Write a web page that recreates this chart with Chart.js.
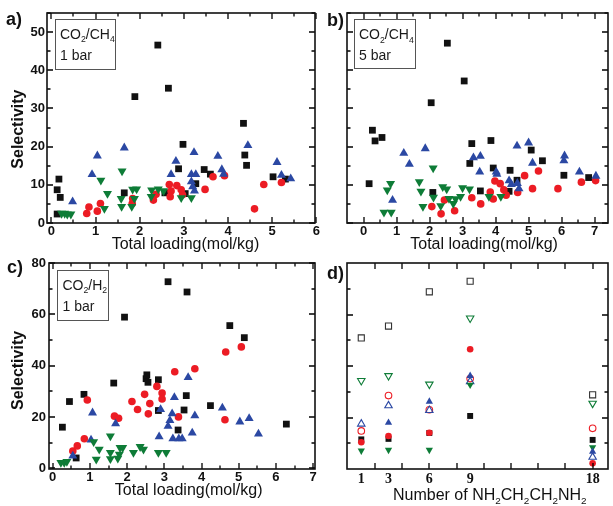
<!DOCTYPE html>
<html><head><meta charset="utf-8">
<script src="https://cdn.jsdelivr.net/npm/chart.js@4.4.0/dist/chart.umd.min.js"></script>
<style>
html,body{margin:0;padding:0;background:#fff;}
#wrap{position:relative;width:613px;height:506px;overflow:hidden;background:#fff;}
canvas{position:absolute;left:0;top:0;}
</style></head><body>
<div id="wrap">
<canvas id="ca" width="613" height="506"></canvas>
<canvas id="cb" width="613" height="506"></canvas>
<canvas id="cc" width="613" height="506"></canvas>
<canvas id="cd" width="613" height="506"></canvas>
</div>
<script>
// ---------- Panel a: CO2/CH4, 1 bar ----------
const aSqX  = [0.13,0.13,0.17,0.2,1.65,1.89,2.41,2.65,2.98,2.88,2.57,3.03,3.27,3.46,3.6,4.35,4.38,4.42,5.02,5.3];
const aSqY  = [2.35,8.7,11.5,6.7,7.9,33.1,46.6,35.3,20.6,14.2,7.9,7.7,10.3,14.0,12.8,26.1,17.8,15.1,12.1,11.5];
const aCirX = [0.8,0.85,1.04,1.11,1.84,1.83,2.31,2.37,2.67,2.71,2.69,2.84,2.94,2.97,3.48,3.66,3.92,4.6,4.81,5.21];
const aCirY = [2.5,4.2,3.1,5.1,6.4,5.1,6.0,7.5,10.1,8.4,6.9,9.8,8.7,7.4,8.8,12.1,12.4,3.7,10.1,10.6];
const aUpX  = [0.48,0.92,1.04,1.65,2.71,2.82,3.17,3.17,3.2,3.24,3.27,3.23,3.77,3.86,3.9,4.45,5.11,5.21,5.42];
const aUpY  = [5.6,12.7,17.6,19.7,12.7,16.2,12.7,10.8,9.5,8.4,12.7,18.5,17.5,14.0,12.8,20.3,15.9,12.5,11.6];
const aDnX  = [0.23,0.3,0.36,0.44,1.12,1.2,1.27,1.58,1.6,1.59,1.82,1.84,1.93,1.88,2.26,2.27,2.42,2.54,2.94,3.17];
const aDnY  = [2.5,2.5,2.3,2.3,11.2,3.8,7.7,6.4,13.6,4.3,4.3,8.8,8.9,6.4,6.9,8.6,8.9,8.4,6.6,6.6];
// ---------- Panel b: CO2/CH4, 5 bar ----------
const bSqX  = [0.17,0.27,0.35,0.56,2.05,2.1,2.54,3.05,3.28,3.22,3.54,3.86,3.93,4.44,4.41,4.65,5.08,5.42,6.07,6.82];
const bSqY  = [10.3,24.3,21.5,22.4,31.5,8.0,47.1,37.2,20.8,15.6,8.4,21.6,14.4,13.8,8.3,11.2,19.1,16.3,12.5,11.9];
const bCirX = [2.07,2.35,2.45,2.76,3.28,3.55,3.84,3.93,3.98,4.14,4.25,4.32,4.67,4.88,5.12,5.3,5.89,6.6,7.03];
const bCirY = [4.3,2.4,6.0,3.2,6.6,5.0,8.1,6.3,11.0,10.3,8.7,7.3,8.0,12.4,9.0,13.6,9.0,10.7,11.1];
const bUpX  = [0.88,1.22,1.39,1.87,3.33,3.54,3.52,4.02,4.04,4.41,4.48,4.65,4.66,4.71,5.0,5.12,6.09,6.07,6.54,7.04];
const bUpY  = [6.0,18.3,15.4,19.5,17.1,17.5,13.4,13.4,12.8,11.1,10.1,20.2,10.4,9.0,21.0,15.7,17.6,16.3,13.4,12.3];
const bDnX  = [0.62,0.84,0.82,0.72,1.69,1.74,1.8,2.11,2.12,2.34,2.4,2.52,2.59,2.72,2.79,2.94,3.0,3.21,3.8,4.16];
const bDnY  = [2.8,2.8,10.3,8.6,10.8,8.3,4.3,14.4,6.7,4.5,9.5,8.9,6.4,5.1,6.3,6.9,9.2,8.9,6.9,6.9];
// ---------- Panel c: CO2/H2, 1 bar ----------
const cSqX  = [0.26,0.45,0.63,0.84,1.64,1.93,2.51,2.53,2.56,2.84,2.84,3.1,3.37,3.59,3.61,3.53,4.24,4.76,5.15,6.28];
const cSqY  = [16.0,26.0,4.0,28.8,33.2,58.9,34.9,36.4,33.5,34.5,22.5,72.7,14.9,28.3,68.7,22.7,24.4,55.6,50.9,17.2];
const cCirX = [0.54,0.66,0.85,0.93,1.66,1.77,2.13,2.28,2.47,2.57,2.61,2.8,2.94,2.94,3.28,3.38,3.82,4.65,4.63,5.07];
const cCirY = [6.7,8.7,11.5,26.6,20.3,19.5,26.0,22.9,28.8,21.2,25.2,31.9,29.3,27.0,37.6,20.0,38.8,45.3,18.9,47.3];
const cUpX  = [0.54,1.03,1.07,1.69,2.86,2.9,3.1,3.15,3.21,3.27,3.23,3.39,3.48,3.64,3.75,3.82,4.56,5.03,5.28,5.53];
const cUpY  = [4.8,11.0,21.6,17.4,12.3,22.9,16.4,18.6,21.3,27.6,11.5,11.5,11.5,35.4,13.8,20.5,23.5,18.1,19.4,13.4];
const cDnX  = [0.22,0.31,0.38,1.1,1.17,1.25,1.55,1.55,1.55,1.81,1.79,1.88,1.75,2.17,2.35,2.44,2.84,3.05];
const cDnY  = [2.2,2.2,2.6,10.3,3.5,7.4,12.5,6.1,3.7,8.0,5.4,8.0,3.9,6.1,8.4,7.4,6.1,6.1];
// ---------- Panel d: number of NH2CH2CH2NH2 ----------
const dX       = [1,3,6,9,18];
const dSqFill  = [11.5,11.7,14.0,20.6,11.3];
const dCirFill = [10.4,12.8,14.1,46.5,2.2];
const dUpFill  = [null,18.0,26.2,36.2,6.7];
const dDnFill  = [7.1,7.4,7.4,32.7,8.4];
const dSqOpen  = [50.9,55.5,68.8,72.9,28.8];
const dCirOpen = [14.8,28.5,23.0,35.1,15.8];
const dUpOpen  = [17.5,24.6,22.8,34.0,4.6];
const dDnOpen  = [34.3,36.2,32.9,58.6,25.5];
// ---------- tick values ----------
const aXTicks = [0,1,2,3,4,5,6];
const abYTicks = [0,10,20,30,40,50];
const bXTicks = [0,1,2,3,4,5,6,7];
const cXTicks = [0,1,2,3,4,5,6,7];
const cYTicks = [0,20,40,60,80];
const dXTicks = [1,3,6,9,18];
const dXMarks = [2,4,6,8,10,12,14,16,18];
const dYMajor = [20,40,60];
const dYMinor = [10,30,50,70];
// ---------- text ----------
const yTitle = 'Selectivity';
const xTitle = 'Total loading(mol/kg)';

const C_BLACK='#111', C_RED='#ec1c24', C_BLUE='#2b48a3', C_GREEN='#0e7c37';
const FONT='"Liberation Sans", Arial, Helvetica, sans-serif';
const SERIF='"Liberation Serif", "Times New Roman", serif';

const pts = (xs, ys) => xs.map((x,i)=>({x, y: ys[i]}));
const half = arr => arr.slice(0,-1).map((v,i)=>(v+arr[i+1])/2);

function drawRich(ctx, x, y, parts, size, weight){
  let cx = x;
  parts.forEach(([t, sub])=>{
    const s = sub ? size*0.62 : size;
    ctx.font = `${weight||'normal'} ${s}px ${FONT}`;
    ctx.fillText(t, cx, y + (sub ? size*0.28 : 0));
    cx += ctx.measureText(t).width;
  });
  return cx - x;
}

function makeFrame(spec){
  return {
    id:'frame_'+Math.random().toString(36).slice(2),
    afterDatasetsDraw(chart){
      const {ctx, chartArea:ca, scales:{x,y}} = chart;
      const L=Math.round(ca.left), R=Math.round(ca.right), T=Math.round(ca.top), B=Math.round(ca.bottom);
      ctx.save();
      ctx.strokeStyle='#000';
      ctx.lineWidth=1.3;
      ctx.beginPath();
      const xt=(vals,len)=>vals.forEach(v=>{const p=Math.round(x.getPixelForValue(v));
        ctx.moveTo(p,B);ctx.lineTo(p,B-len);ctx.moveTo(p,T);ctx.lineTo(p,T+len);});
      const yt=(vals,len)=>vals.forEach(v=>{const p=Math.round(y.getPixelForValue(v));
        ctx.moveTo(L,p);ctx.lineTo(L+len,p);ctx.moveTo(R,p);ctx.lineTo(R-len,p);});
      xt(spec.xMajor,6); xt(spec.xMinor,3.5); yt(spec.yMajor,6); yt(spec.yMinor,3.5);
      ctx.stroke();
      ctx.lineWidth=1.6;
      ctx.strokeStyle='#111';
      ctx.strokeRect(L, T, R-L, B-T);
      ctx.restore();
    },
    afterDraw(chart){
      const ctx = chart.ctx;
      ctx.save();
      ctx.fillStyle='#111';
      ctx.textBaseline='alphabetic';
      ctx.textAlign='left';
      if(spec.label){ ctx.font=`bold 18px ${FONT}`; ctx.fillText(spec.label.text, spec.label.x, spec.label.y); }
      if(spec.box){
        const b=spec.box;
        ctx.strokeStyle='#555'; ctx.lineWidth=1;
        ctx.strokeRect(b.x+0.5,b.y+0.5,b.w,b.h);
        ctx.fillStyle='#1a1a1a';
        b.lines.forEach(l=>drawRich(ctx,l.x,l.y,l.parts,14,'normal'));
      }
      if(spec.title){
        ctx.fillStyle='#111';
        drawRich(ctx, spec.title.x, spec.title.y, spec.title.parts, 16, 'normal');
      }
      ctx.restore();
    }
  };
}

function ds(data, color, style, radius, rot, open){
  return {data, pointStyle:style, pointRadius:radius, pointHoverRadius:radius, pointRotation:rot||0,
    pointBackgroundColor: open ? 'rgba(0,0,0,0)' : color,
    pointBorderColor: color, pointBorderWidth: open ? 1.1 : 0, showLine:false, clip:false};
}

function options(s){
  return {
    responsive:false, animation:false, devicePixelRatio:1,
    layout:{padding:s.pad},
    plugins:{legend:{display:false}, tooltip:{enabled:false}},
    scales:{
      x:{type:'linear', min:s.xMin, max:s.xMax,
        grid:{display:false, drawTicks:false}, border:{display:false},
        afterBuildTicks: sc=>{ sc.ticks = s.xTicks.map(v=>({value:v})); },
        afterFit: sc=>{ sc.height = s.xH; },
        ticks:{display:true, font:s.xFont||{family:FONT, size:13, weight:'bold'}, color:'#111',
               padding:s.xPad||1, maxRotation:0, autoSkip:false},
        title: s.xTitle ? {display:true, text:s.xTitle, color:'#111',
               font:{family:FONT, size:16, weight:'normal'}, padding:{top:0,bottom:0}} : {display:false}
      },
      y:{type:'linear', min:s.yMin, max:s.yMax,
        grid:{display:false, drawTicks:false}, border:{display:false},
        afterBuildTicks: sc=>{ sc.ticks = s.yTicks.map(v=>({value:v})); },
        afterFit: sc=>{ sc.width = s.yW; },
        ticks:{display:!!s.yLabels, font:{family:FONT, size:13, weight:'bold'}, color:'#111',
               padding:s.yPad||2, autoSkip:false},
        title: s.yTitle ? {display:true, text:s.yTitle, color:'#111',
               font:{family:FONT, size:16, weight:'bold'}, padding:{top:s.yTitlePad||9,bottom:0}} : {display:false}
      }
    }
  };
}

function scatterSets(sq, cir, up, dn){
  return [
    ds(dn, C_GREEN, 'triangle', 5.2, 180),
    ds(up, C_BLUE, 'triangle', 5.2, 0),
    ds(cir, C_RED, 'circle', 3.8, 0),
    ds(sq, C_BLACK, 'rect', 4.8, 0)
  ];
}

// Panel a
new Chart(document.getElementById('ca'), {
  type:'scatter',
  data:{datasets: scatterSets(pts(aSqX,aSqY), pts(aCirX,aCirY), pts(aUpX,aUpY), pts(aDnX,aDnY))},
  options: options({pad:{left:0,top:13,right:298,bottom:252}, xMin:-0.1, xMax:5.97, yMin:0, yMax:55,
    xTicks:aXTicks, yTicks:abYTicks, xH:31, yW:47, yLabels:true, yPad:2, yTitlePad:9,
    xTitle:'  '+xTitle, yTitle:yTitle+'     '}),
  plugins:[makeFrame({xMajor:aXTicks, xMinor:half(aXTicks), yMajor:abYTicks, yMinor:half(abYTicks.concat([60])),
    label:{text:'a)', x:6, y:25},
    box:{x:55,y:19,w:60,h:50, lines:[
      {x:60,y:38.5,parts:[['CO',0],['2',1],['/CH',0],['4',1]]},
      {x:60,y:60,parts:[['1 bar',0]]}]}})]
});

// Panel b
new Chart(document.getElementById('cb'), {
  type:'scatter',
  data:{datasets: scatterSets(pts(bSqX,bSqY), pts(bCirX,bCirY), pts(bUpX,bUpY), pts(bDnX,bDnY))},
  options: options({pad:{left:347,top:13,right:3,bottom:252}, xMin:-0.5, xMax:7.4, yMin:0, yMax:55,
    xTicks:bXTicks, yTicks:abYTicks, xH:31, yW:0, yLabels:false,
    xTitle:'   '+xTitle}),
  plugins:[makeFrame({xMajor:bXTicks, xMinor:half(bXTicks), yMajor:abYTicks, yMinor:half(abYTicks.concat([60])),
    label:{text:'b)', x:327, y:26},
    box:{x:354,y:19,w:61,h:49, lines:[
      {x:359,y:39,parts:[['CO',0],['2',1],['/CH',0],['4',1]]},
      {x:359,y:60,parts:[['5 bar',0]]}]}})]
});

// Panel c
new Chart(document.getElementById('cc'), {
  type:'scatter',
  data:{datasets: scatterSets(pts(cSqX,cSqY), pts(cCirX,cCirY), pts(cUpX,cUpY), pts(cDnX,cDnY))},
  options: options({pad:{left:0,top:263,right:298,bottom:6}, xMin:-0.1, xMax:7.05, yMin:-0.3, yMax:80,
    xTicks:cXTicks, yTicks:cYTicks, xH:31, yW:49, yLabels:true, yPad:3, yTitlePad:9,
    xTitle:'   '+xTitle, yTitle:yTitle+'  '}),
  plugins:[makeFrame({xMajor:cXTicks, xMinor:half(cXTicks), yMajor:cYTicks, yMinor:half(cYTicks),
    label:{text:'c)', x:7, y:273},
    box:{x:57,y:270,w:51,h:50, lines:[
      {x:62.5,y:289.5,parts:[['CO',0],['2',1],['/H',0],['2',1]]},
      {x:62.5,y:310.5,parts:[['1 bar',0]]}]}})]
});

// Panel d
new Chart(document.getElementById('cd'), {
  type:'scatter',
  data:{datasets: [
    ds(pts(dX,dUpFill), C_BLUE, 'triangle', 4.2, 0),
    ds(pts(dX,dDnFill), C_GREEN, 'triangle', 4.2, 180),
    ds(pts(dX,dCirFill), C_RED, 'circle', 3.3, 0),
    ds(pts(dX,dSqFill), C_BLACK, 'rect', 4.2, 0),
    ds(pts(dX,dUpOpen), C_BLUE, 'triangle', 4.3, 0, true),
    ds(pts(dX,dCirOpen), C_RED, 'circle', 3.3, 0, true),
    ds(pts(dX,dDnOpen), C_GREEN, 'triangle', 4.3, 180, true),
    ds(pts(dX,dSqOpen), '#333', 'rect', 4.3, 0, true)
  ]},
  options: options({pad:{left:347,top:263,right:2,bottom:17}, xMin:-0.05, xMax:19.1, yMin:0, yMax:80,
    xTicks:dXTicks, yTicks:[], xH:20, yW:0, yLabels:false, xPad:2,
    xFont:{family:SERIF, size:14, weight:'bold'}}),
  plugins:[makeFrame({xMajor:dXMarks, xMinor:[], yMajor:dYMajor, yMinor:dYMinor,
    label:{text:'d)', x:327, y:279},
    title:{x:393, y:499.5, parts:[['Number of NH',0],['2',1],['CH',0],['2',1],['CH',0],['2',1],['NH',0],['2',1]]}})]
});
</script>
</body></html>
